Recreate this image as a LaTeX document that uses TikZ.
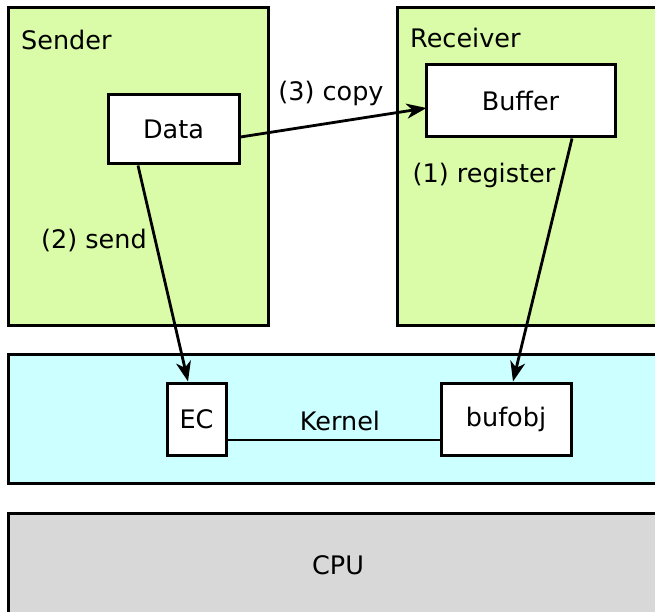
\documentclass[tikz,border=0pt]{standalone}
\usepackage{fontspec}
\setmainfont{DejaVu Sans}
\usetikzlibrary{arrows.meta}
\definecolor{procgreen}{RGB}{218,252,168}
\definecolor{kerncyan}{RGB}{204,255,255}
\definecolor{cpugrey}{RGB}{216,216,216}
\tikzset{
  region/.style={draw=black, line width=3pt},
  inbox/.style={draw=black, fill=white, line width=3pt, inner sep=0pt, font=\fontsize{25.5}{30}\selectfont},
  lbl/.style={font=\fontsize{25.5}{30}\selectfont, inner sep=0pt},
  conn/.style={line width=2.8pt, -{Stealth[length=20pt,width=15pt,inset=6pt]}},
  plain/.style={line width=2.8pt}
}
\begin{document}
\begin{tikzpicture}[x=1pt,y=-1pt]
\useasboundingbox (0,0) rectangle (655,612);
\clip (0,0) rectangle (655,612);
% regions
\draw[region, fill=procgreen] (8,8) rectangle (268,325);
\draw[region, fill=procgreen] (397,8) rectangle (680,325);
\draw[region, fill=kerncyan] (8,354) rectangle (680,483);
\draw[region, fill=cpugrey] (8,513) rectangle (680,640);
% region labels
\node[lbl, anchor=west] (sender) at (21,40) {Sender};
\node[lbl, anchor=west] (receiver) at (410,38) {Receiver};
\node[lbl] (kernel) at (340,421) {Kernel};
\node[lbl] (cpu) at (338,565) {CPU};
% inner boxes
\node[inbox, minimum width=131pt, minimum height=69pt] (data) at (173.5,129.5) {Data};
\node[inbox, minimum width=189pt, minimum height=72pt] (buffer) at (520.5,101) {Buffer};
\node[inbox, minimum width=59pt, minimum height=72pt] (ec) at (196.5,419) {EC};
\node[inbox, minimum width=130pt, minimum height=72pt] (bufobj) at (506,419) {bufobj};
% connectors
\draw[plain] ([yshift=-21pt]ec.east) -- ([yshift=-21pt]bufobj.west);
\draw[conn] ([xshift=-35.5pt]data.south) -- ([xshift=-8.5pt]ec.north);
\draw[conn] ([xshift=51.5pt]buffer.south) -- ([xshift=7pt]bufobj.north);
\draw[conn] ([yshift=-7.5pt]data.east) -- ([yshift=-7pt,xshift=2pt]buffer.west);
% connector labels
\node[lbl] (copylbl) at (331,93) {(3) copy};
\node[lbl] (reglbl) at (484,175) {(1) register};
\node[lbl] (sendlbl) at (94,240) {(2) send};
\end{tikzpicture}
\end{document}
